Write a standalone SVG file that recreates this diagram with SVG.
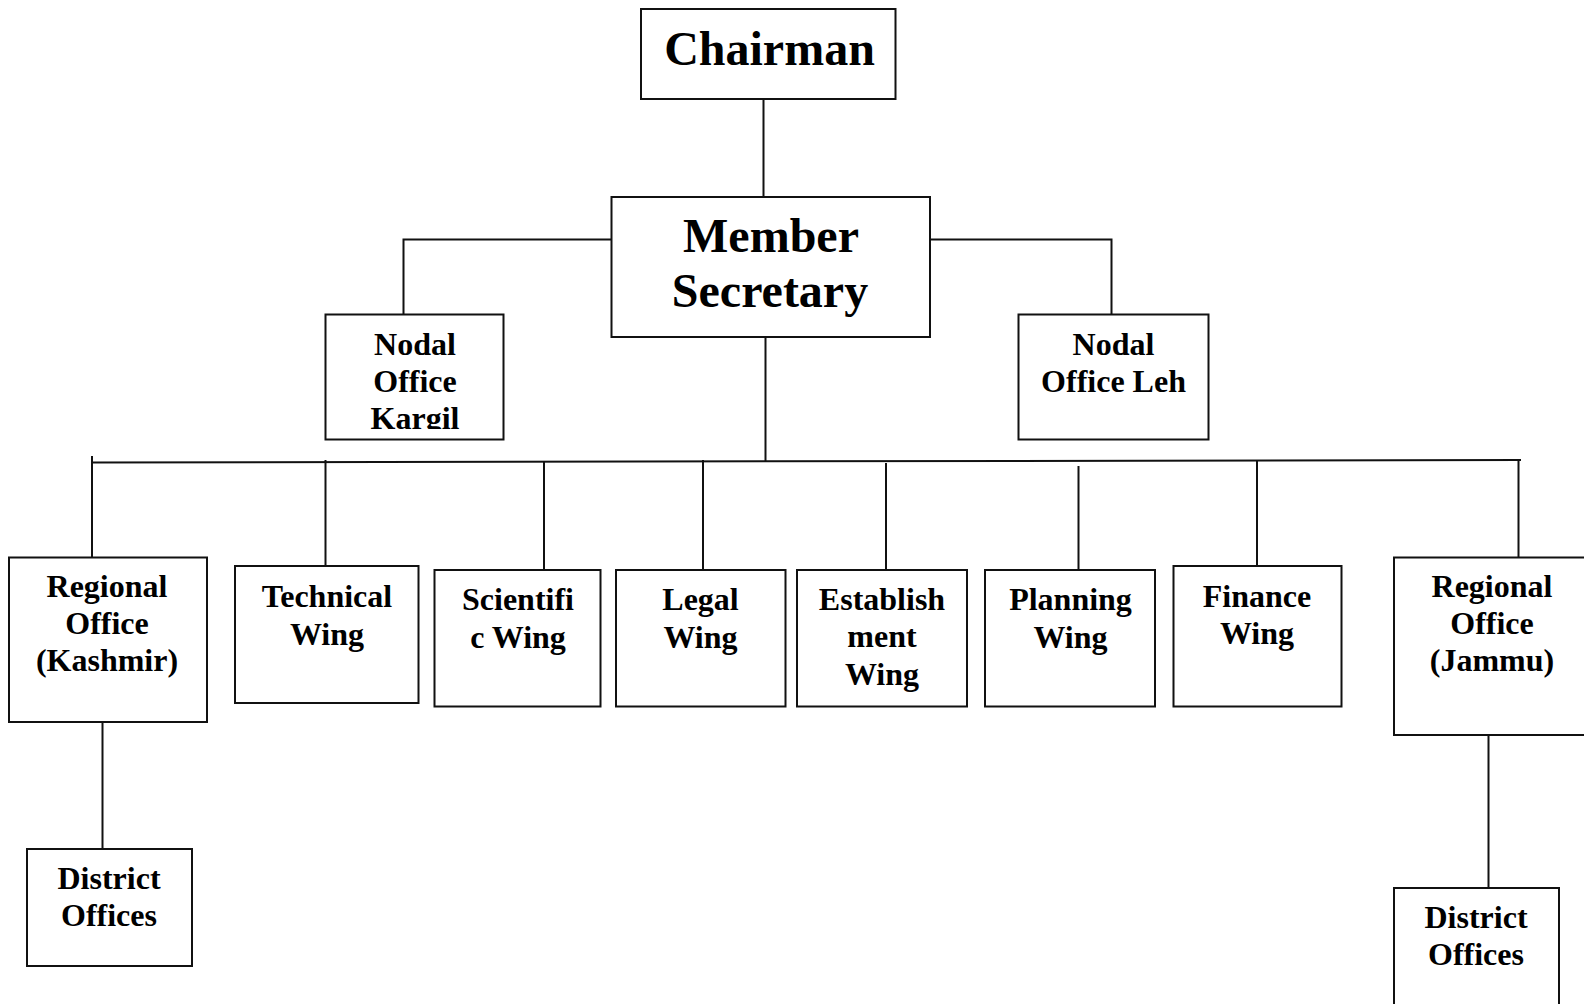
<svg xmlns="http://www.w3.org/2000/svg" width="1584" height="1004" viewBox="0 0 1584 1004">
<style>
.box{fill:#fff;stroke:#111;stroke-width:2}
.ln{fill:none;stroke:#111;stroke-width:2}
text{font-family:"Liberation Serif","Times New Roman",serif;font-weight:bold;fill:#000;text-anchor:middle}
.big{font-size:48px}
.t{font-size:32px}
</style>
<defs>
<clipPath id="kclip"><rect x="320" y="310" width="190" height="119"/></clipPath>
</defs>
<rect width="1584" height="1004" fill="#fff"/>
<g id="connectors">
<line class="ln" x1="763.5" y1="99" x2="763.5" y2="197"/>
<polyline class="ln" points="611.5,239.5 403.5,239.5 403.5,314.5"/>
<polyline class="ln" points="930,239.5 1111.5,239.5 1111.5,314.5"/>
<line class="ln" x1="765.5" y1="337" x2="765.5" y2="461"/>
<line class="ln" x1="92" y1="462.5" x2="1521" y2="460"/>
<line class="ln" x1="92" y1="456" x2="92" y2="557.5"/>
<line class="ln" x1="325.5" y1="460" x2="325.5" y2="566"/>
<line class="ln" x1="544" y1="462" x2="544" y2="570"/>
<line class="ln" x1="703" y1="460" x2="703" y2="570"/>
<line class="ln" x1="886" y1="463" x2="886" y2="570"/>
<line class="ln" x1="1078.5" y1="466" x2="1078.5" y2="570"/>
<line class="ln" x1="1257" y1="460" x2="1257" y2="566"/>
<line class="ln" x1="1518.5" y1="460" x2="1518.5" y2="557.5"/>
<line class="ln" x1="102.5" y1="722" x2="102.5" y2="849"/>
<line class="ln" x1="1488.5" y1="735" x2="1488.5" y2="888"/>
</g>
<g id="chairman">
<rect class="box" x="641" y="9" width="254.5" height="90"/>
<text class="big" x="769.5" y="65">Chairman</text>
</g>
<g id="member-secretary">
<rect class="box" x="611.5" y="197" width="318.5" height="140"/>
<text class="big" x="771" y="252">Member</text>
<text class="big" x="770" y="307">Secretary</text>
</g>
<g id="nodal-kargil">
<rect class="box" x="325.5" y="314.5" width="178" height="125"/>
<g clip-path="url(#kclip)">
<text class="t" x="415" y="355">Nodal</text>
<text class="t" x="415" y="392">Office</text>
<text class="t" x="415" y="429">Kargil</text>
</g>
</g>
<g id="nodal-leh">
<rect class="box" x="1018.5" y="314.5" width="190" height="125"/>
<text class="t" x="1113.5" y="355">Nodal</text>
<text class="t" x="1113.5" y="392">Office Leh</text>
</g>
<g id="regional-kashmir">
<rect class="box" x="9" y="557.5" width="198" height="164.5"/>
<text class="t" x="107" y="597">Regional</text>
<text class="t" x="107" y="634">Office</text>
<text class="t" x="107" y="671">(Kashmir)</text>
</g>
<g id="technical-wing">
<rect class="box" x="235" y="566" width="183.5" height="137"/>
<text class="t" x="327" y="607">Technical</text>
<text class="t" x="327" y="645">Wing</text>
</g>
<g id="scientific-wing">
<rect class="box" x="434.5" y="570" width="166" height="136.5"/>
<text class="t" x="518" y="609.5">Scientifi</text>
<text class="t" x="518" y="648">c Wing</text>
</g>
<g id="legal-wing">
<rect class="box" x="616" y="570" width="169.5" height="136.5"/>
<text class="t" x="700.5" y="609.5">Legal</text>
<text class="t" x="700.5" y="648">Wing</text>
</g>
<g id="establishment-wing">
<rect class="box" x="797" y="570" width="170" height="136.5"/>
<text class="t" x="882" y="609.5">Establish</text>
<text class="t" x="882" y="647">ment</text>
<text class="t" x="882" y="685">Wing</text>
</g>
<g id="planning-wing">
<rect class="box" x="985" y="570" width="170" height="136.5"/>
<text class="t" x="1070.5" y="609.5">Planning</text>
<text class="t" x="1070.5" y="648">Wing</text>
</g>
<g id="finance-wing">
<rect class="box" x="1173.5" y="566" width="168" height="140.5"/>
<text class="t" x="1257" y="607">Finance</text>
<text class="t" x="1257" y="644">Wing</text>
</g>
<g id="regional-jammu">
<rect class="box" x="1394" y="557.5" width="220" height="177.5"/>
<text class="t" x="1492" y="597">Regional</text>
<text class="t" x="1492" y="634">Office</text>
<text class="t" x="1492" y="671">(Jammu)</text>
</g>
<g id="district-kashmir">
<rect class="box" x="27" y="849" width="165" height="117"/>
<text class="t" x="109" y="888.5">District</text>
<text class="t" x="109" y="926">Offices</text>
</g>
<g id="district-jammu">
<rect class="box" x="1394" y="888" width="165" height="140"/>
<text class="t" x="1476" y="928">District</text>
<text class="t" x="1476" y="965">Offices</text>
</g>
</svg>
